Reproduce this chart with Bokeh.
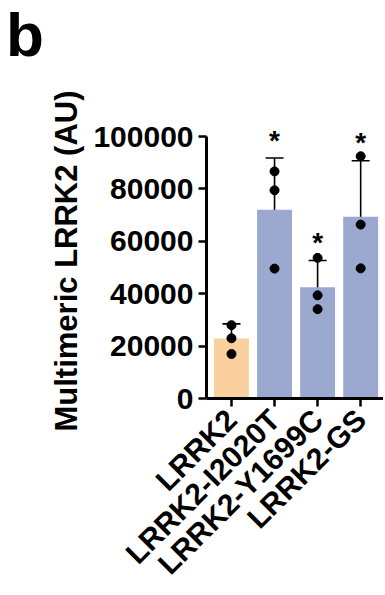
import math
from bokeh.plotting import figure
from bokeh.layouts import column
from bokeh.models import ColumnDataSource, Whisker, TeeHead, FixedTicker, Div
from bokeh.core.properties import value
from bokeh.embed import file_html
from bokeh.resources import INLINE

categories = ["LRRK2", "LRRK2-I2020T", "LRRK2-Y1699C", "LRRK2-GS"]
means = [22900, 72100, 42500, 69400]
sds = [5600, 19700, 10200, 21400]
rep1 = [28000, 86700, 53700, 92500]
rep2 = [23000, 79500, 39400, 66400]
rep3 = [17000, 49600, 34100, 49700]
significance = ["", "*", "*", "*"]
bar_colors = ["#FAD19E", "#9BA9D0", "#9BA9D0", "#9BA9D0"]
y_ticks = [0, 20000, 40000, 60000, 80000, 100000]
panel_letter = "b"

FONT = "Liberation Sans"
W = 383
HEAD_H = 70

head = Div(text=panel_letter, width=W, height=HEAD_H, margin=0,
           styles={"font-family": FONT, "font-weight": "bold", "font-size": "62px",
                   "line-height": "62px", "color": "black",
                   "padding-top": "4px", "padding-left": "6px"})

xs = list(range(len(categories)))
src = ColumnDataSource(dict(
    x=xs, mean=means, color=bar_colors,
    upper=[m + s for m, s in zip(means, sds)],
    lower=[m - s for m, s in zip(means, sds)],
    sig=significance,
))

p = figure(width=W, height=595 - HEAD_H, output_backend="svg", toolbar_location=None,
           x_range=(-0.58, 3.53), y_range=(0, 105000),
           min_border_left=206, min_border_right=0,
           min_border_top=123 - HEAD_H, min_border_bottom=183, margin=0)
p.outline_line_color = None
p.xgrid.visible = False
p.ygrid.visible = False

p.vbar(x="x", top="mean", width=0.81, bottom=0, color="color", line_color=None, source=src)

w = Whisker(base="x", upper="upper", lower="lower", source=src,
            line_color="black", line_width=1.6,
            upper_head=TeeHead(size=18, line_width=1.6, line_color="black"),
            lower_head=TeeHead(size=18, line_width=1.6, line_color="black"))
p.add_layout(w)

for rep in (rep1, rep2, rep3):
    p.scatter(xs, rep, size=9, color="black")

p.text(x="x", y="upper", text="sig", source=src, text_align="center",
       text_baseline="alphabetic", y_offset=-18, text_font=value(FONT),
       text_font_style="bold", text_font_size="28px", text_color="black")

for ax in (p.xaxis[0], p.yaxis[0]):
    ax.axis_line_width = 3
    ax.major_tick_line_width = 2.5
    ax.major_tick_in = 0
    ax.major_tick_out = 8
    ax.minor_tick_line_color = None
    ax.major_label_text_font = FONT
    ax.major_label_text_font_style = "bold"
    ax.major_label_text_font_size = "30px"
    ax.major_label_text_color = "black"

p.yaxis[0].ticker = FixedTicker(ticks=y_ticks)
p.yaxis[0].bounds = (0, 100000)
p.yaxis[0].major_label_overrides = {t: str(t) for t in y_ticks}
p.yaxis[0].major_label_standoff = 5
p.yaxis[0].axis_label = "Multimeric LRRK2 (AU)"
p.yaxis[0].axis_label_text_font = FONT
p.yaxis[0].axis_label_text_font_style = "bold"
p.yaxis[0].axis_label_text_font_size = "31px"
p.yaxis[0].axis_label_text_color = "black"
p.yaxis[0].axis_label_standoff = 6

p.xaxis[0].ticker = FixedTicker(ticks=xs)
p.xaxis[0].major_label_overrides = {i: c for i, c in enumerate(categories)}
p.xaxis[0].major_label_orientation = math.pi / 4
p.xaxis[0].major_label_standoff = 8

layout = column(head, p, spacing=0)
open("out.html", "w").write(file_html(layout, INLINE))
